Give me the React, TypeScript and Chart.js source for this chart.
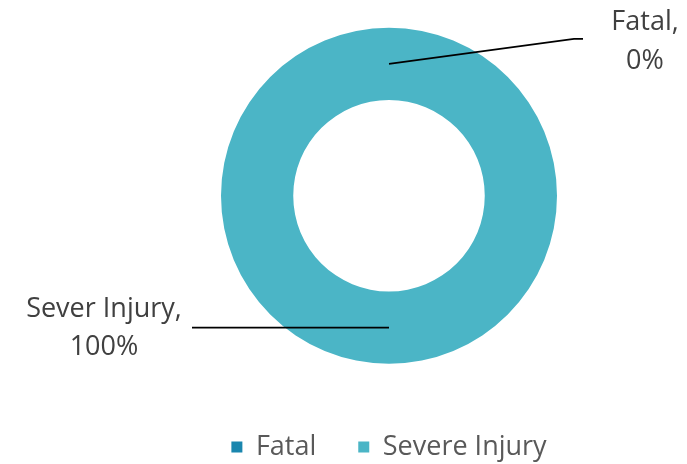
import { useEffect, useRef } from "react";
import { Chart, registerables } from "chart.js";

Chart.register(...registerables);

const categories = ["Fatal", "Severe Injury"];
const labelNames = ["Fatal", "Sever Injury"];
const values = [0, 100];
const colors = ["#1A86AE", "#4BB5C6"];

const FONT = "'Open Sans', sans-serif";

export default function App() {
  const ref = useRef<HTMLCanvasElement>(null);

  useEffect(() => {
    document.body.style.margin = "0";
    if (!ref.current) return;

    // leader line / label geometry relative to each slice's anchor point (px)
    const leaders = [
      { elbow: [185, -25], end: [194, -25], text: [256, -42, -3] },
      { elbow: [-197, 0], end: [-197, 0], text: [-285, -18, 20] },
    ];

    const labelPlugin = {
      id: "leaderLabels",
      afterDatasetsDraw(chart: any) {
        const ctx = chart.ctx as CanvasRenderingContext2D;
        const meta = chart.getDatasetMeta(0);
        const total = values.reduce((a, b) => a + b, 0);
        meta.data.forEach((arc: any, i: number) => {
          const p = arc.getProps(
            ["x", "y", "startAngle", "endAngle", "innerRadius", "outerRadius"],
            true
          );
          const mid = (p.startAngle + p.endAngle) / 2;
          const r = (p.innerRadius + p.outerRadius) / 2;
          const ax = p.x + Math.cos(mid) * r;
          const ay = p.y + Math.sin(mid) * r;
          const L = leaders[i];
          ctx.save();
          ctx.strokeStyle = "#000000";
          ctx.lineWidth = 1.7;
          ctx.beginPath();
          ctx.moveTo(ax, ay);
          ctx.lineTo(ax + L.elbow[0], ay + L.elbow[1]);
          ctx.lineTo(ax + L.end[0], ay + L.end[1]);
          ctx.stroke();
          ctx.fillStyle = "#404040";
          ctx.font = `27px ${FONT}`;
          ctx.textAlign = "center";
          ctx.textBaseline = "middle";
          const pct = Math.round((values[i] / total) * 100);
          ctx.fillText(labelNames[i] + ",", ax + L.text[0], ay + L.text[1]);
          ctx.fillText(pct + "%", ax + L.text[0], ay + L.text[2]);
          ctx.restore();
        });
      },
    };

    const chart = new Chart(ref.current, {
      type: "doughnut",
      data: {
        labels: categories,
        datasets: [
          {
            data: values,
            backgroundColor: colors,
            borderWidth: 0,
            radius: 168,
          },
        ],
      },
      options: {
        responsive: false,
        animation: false,
        cutout: "57%",
        layout: { padding: { top: -4.5, bottom: -6.5, left: 91, right: 0 } },
        plugins: {
          tooltip: { enabled: false },
          legend: {
            position: "bottom",
            labels: {
              boxWidth: 11,
              boxHeight: 11,
              padding: 42,
              color: "#595959",
              font: { size: 27, family: FONT },
            },
          },
        },
      },
      plugins: [labelPlugin],
    });
    return () => chart.destroy();
  }, []);

  return <canvas ref={ref} width={687} height={464} style={{ display: "block" }} />;
}
